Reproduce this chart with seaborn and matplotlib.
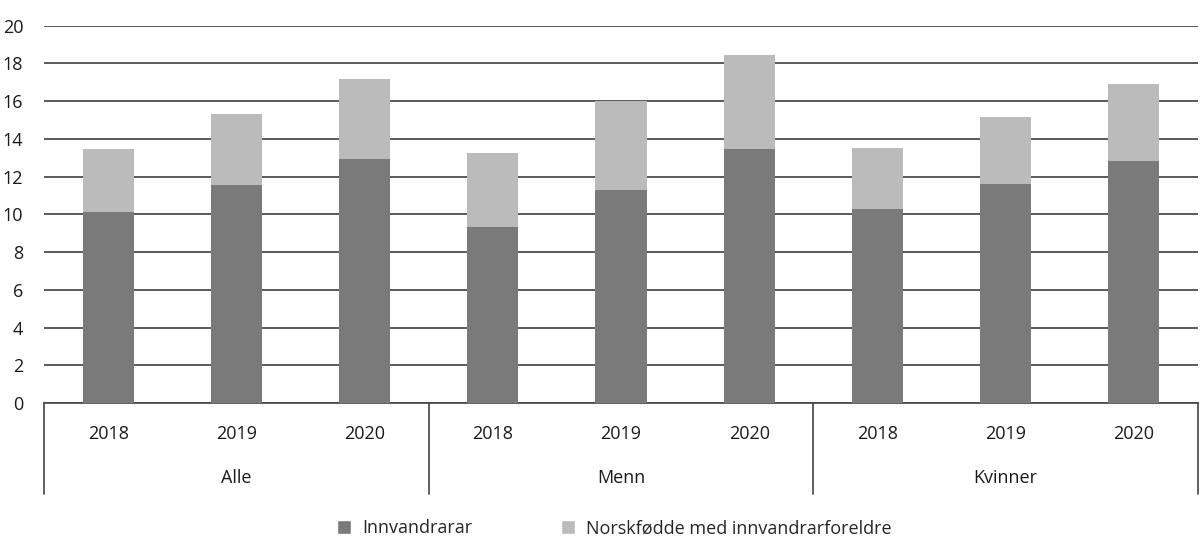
import pandas as pd
import numpy as np
import matplotlib.pyplot as plt
import seaborn as sns
from matplotlib.patches import Patch
import matplotlib.transforms as mtransforms

# Data
groups = ['Alle', 'Menn', 'Kvinner']
years = ['2018', '2019', '2020']
innvandrarar = [10.13, 11.53, 12.91, 9.34, 11.28, 13.44, 10.30, 11.60, 12.81]
totals = [13.47, 15.30, 17.17, 13.25, 16.00, 18.43, 13.52, 15.14, 16.91]

DARK = '#7a7a7a'
LIGHT = '#bbbbbb'

sns.set_style('white')
plt.rcParams['font.family'] = ['Open Sans', 'DejaVu Sans']
plt.rcParams['font.size'] = 13

labels = [f'{g} {y}' for g in groups for y in years]
df = pd.DataFrame({
    'label': labels,
    'Innvandrarar': innvandrarar,
    'Total': totals,
})

fig = plt.figure(figsize=(12, 5.56), dpi=100)
ax = fig.add_axes([0.0367, 0.2752, 0.9616, 0.6786])

# stacked: total (light) behind, immigrants (dark) in front
sns.barplot(data=df, x='label', y='Total', order=labels, color=LIGHT,
            width=0.4, linewidth=0, saturation=1, ax=ax, zorder=3)
sns.barplot(data=df, x='label', y='Innvandrarar', order=labels, color=DARK,
            width=0.4, linewidth=0, saturation=1, ax=ax, zorder=4)

ax.set_xlim(-0.5, len(labels) - 0.5)
ax.set_ylim(0, 20)
ax.set_yticks(range(0, 21, 2))
ax.yaxis.grid(True, color='#4d4d4d', linewidth=1.3, zorder=0)
ax.set_axisbelow(True)
ax.set_xlabel('')
ax.set_ylabel('')
ax.set_xticks(range(len(labels)))
ax.set_xticklabels(years * len(groups))
ax.tick_params(axis='both', length=0, colors='#1a1a1a', labelsize=13)
ax.tick_params(axis='x', pad=16)
ax.tick_params(axis='y', pad=15)
for lbl in ax.get_yticklabels():
    lbl.set_horizontalalignment('right')

for s in ['top', 'right', 'left']:
    ax.spines[s].set_visible(False)
ax.spines['bottom'].set_color('#444444')
ax.spines['bottom'].set_linewidth(1.2)

# group separators and group labels below the axis
trans = mtransforms.blended_transform_factory(ax.transData, ax.transAxes)
for xb in [-0.5, 2.5, 5.5, 8.5]:
    ax.plot([xb, xb], [0, -0.24], transform=trans, color='#444444',
            linewidth=1.2, clip_on=False)
for i, g in enumerate(groups):
    ax.text(i * 3 + 1, -0.20, g, transform=trans, ha='center', va='center',
            fontsize=13, color='#1a1a1a')

handles = [Patch(facecolor=DARK, label='Innvandrarar'),
           Patch(facecolor=LIGHT, label='Norskfødde med innvandrarforeldre')]
fig.legend(handles=handles, loc='center', bbox_to_anchor=(0.512, 0.05),
           ncol=2, frameon=False, fontsize=13, handlelength=0.8,
           handleheight=0.8, handletextpad=0.6, columnspacing=4.9)

fig.savefig('out.png', dpi=100)
